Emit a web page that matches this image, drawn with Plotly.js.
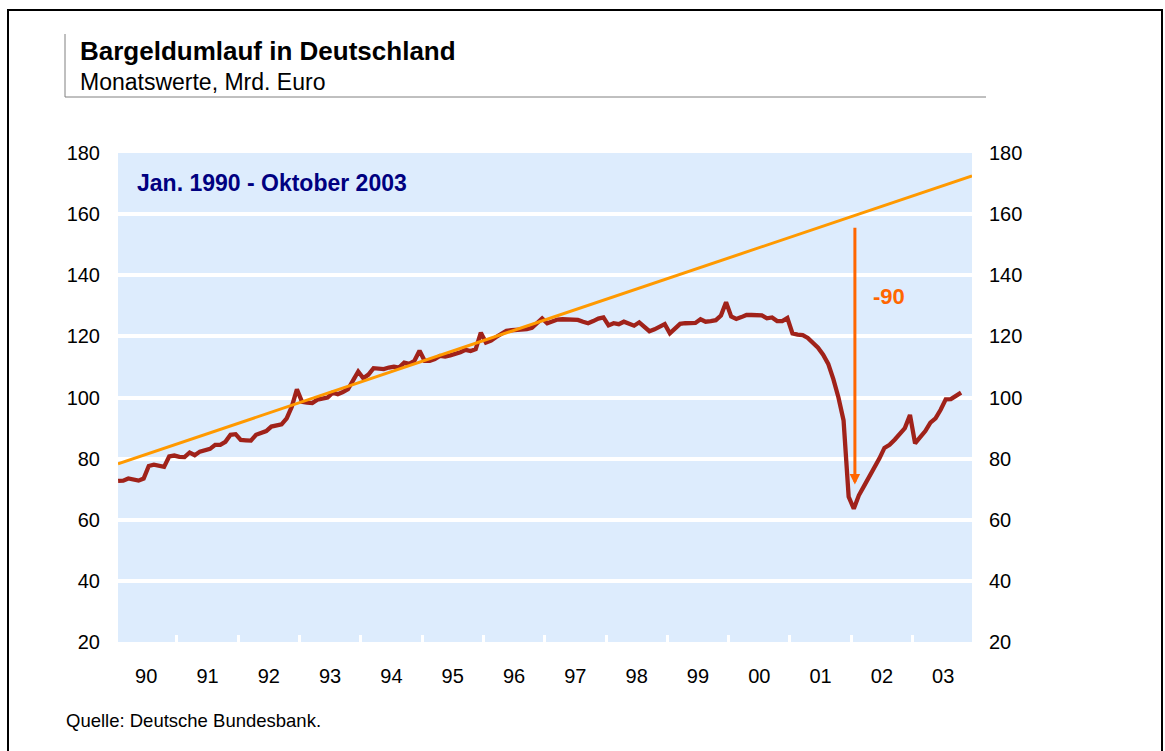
<!DOCTYPE html>
<html>
<head>
<meta charset="utf-8">
<script src="https://cdn.plot.ly/plotly-3.0.1.min.js"></script>
<style>
  html, body { margin: 0; padding: 0; background: #ffffff; }
  #chart { width: 1165px; height: 751px; }
</style>
</head>
<body>
<div id="chart"></div>
<script>
// ---- Data (monthly, Jan 1990 – Oct 2003, Mrd. Euro) ----
const startYear = 1990;
const yearLabels = ['90','91','92','93','94','95','96','97','98','99','00','01','02','03'];

const cash1990 = [72.7, 72.8, 73.5, 73.2, 72.8, 73.5, 77.6, 78.0, 77.8, 77.3, 80.7, 81.0];
const cash1991 = [80.6, 80.5, 82.0, 81.1, 82.3, 82.8, 83.2, 84.5, 84.5, 85.5, 87.8, 88.0];
const cash1992 = [86.1, 86.0, 85.9, 87.8, 88.3, 89.0, 90.5, 90.8, 91.2, 93.2, 97.0, 102.7];
const cash1993 = [98.6, 98.3, 98.2, 99.3, 99.8, 100.0, 101.6, 101.1, 101.8, 102.7, 105.6, 108.5];
const cash1994 = [106.3, 107.5, 109.6, 109.5, 109.3, 109.8, 110.1, 109.8, 111.4, 111.0, 112.0, 115.3];
const cash1995 = [112.0, 112.0, 112.6, 113.6, 113.4, 113.8, 114.2, 114.8, 115.6, 115.2, 115.8, 121.2];
const cash1996 = [118.0, 118.6, 119.8, 120.8, 121.8, 122.0, 122.1, 122.3, 122.4, 122.8, 124.5, 125.9];
const cash1997 = [124.3, 125.0, 125.5, 125.6, 125.5, 125.4, 125.4, 124.8, 124.3, 125.0, 125.8, 126.2];
const cash1998 = [123.6, 124.3, 124.0, 124.8, 124.3, 123.5, 124.6, 123.0, 121.7, 122.3, 123.3, 124.0];
const cash1999 = [121.0, 122.5, 124.1, 124.3, 124.3, 124.4, 125.6, 124.8, 125.0, 125.3, 126.8, 131.2];
const cash2000 = [126.5, 125.7, 126.3, 127.0, 127.0, 127.0, 126.9, 125.9, 126.2, 125.0, 125.0, 126.0];
const cash2001 = [121.0, 120.6, 120.4, 119.5, 118.0, 116.3, 114.0, 111.0, 106.0, 100.0, 92.5, 67.5];
const cash2002 = [63.6, 68.0, 71.0, 74.0, 76.5, 80.0, 83.5, 84.5, 86.2, 88.3, 90.0, 94.3];
const cash2003 = [85.0, 87.0, 89.0, 91.8, 93.2, 96.0, 99.4, 99.5, 100.5, 101.6];

const cashValues = [].concat(cash1990, cash1991, cash1992, cash1993, cash1994, cash1995,
  cash1996, cash1997, cash1998, cash1999, cash2000, cash2001, cash2002, cash2003);

// trend line (start / end of chart)
const trendX = [1990.04, 2003.97];
const trendY = [78.3, 172.5];

// gap arrow (Jan 2002)
const gapX = 2002.06;
const gapFrom = 156.0;
const gapTo = 71.5;
const gapLabel = '-90';

const periodLabel = 'Jan. 1990 - Oktober 2003';
const titleText = 'Bargeldumlauf in Deutschland';
const subtitleText = 'Monatswerte, Mrd. Euro';
const sourceText = 'Quelle: Deutsche Bundesbank.';

// ---- derived ----
const monthX = cashValues.map((_, i) => startYear + (i + 0.5) / 12);
const yearCenters = yearLabels.map((_, k) => startYear + k + 0.5);

const FONT = 'Liberation Sans, Arial, Helvetica, sans-serif';

const traces = [
  {
    x: monthX, y: cashValues, type: 'scatter', mode: 'lines',
    line: { color: '#A0221A', width: 4.3 },
    xaxis: 'x', yaxis: 'y', hoverinfo: 'skip'
  },
  {
    x: trendX, y: trendY, type: 'scatter', mode: 'lines',
    line: { color: '#FF9900', width: 3 },
    xaxis: 'x', yaxis: 'y2', hoverinfo: 'skip'
  }
];

// pixel -> paper helpers (plot area 118..972 x 153..642)
const L = 118, R = 193, T = 153, B = 109, W = 1165, H = 751;
const pw = W - L - R, ph = H - T - B;
const px = v => (v - L) / pw;
const py = v => (H - B - v) / ph;

const layout = {
  width: W, height: H,
  margin: { l: L, r: R, t: T, b: B, pad: 0 },
  paper_bgcolor: '#ffffff',
  plot_bgcolor: '#DDECFD',
  showlegend: false,
  font: { family: FONT, size: 20, color: '#000000' },
  xaxis: {
    range: [1990.04, 2003.97],
    tickmode: 'array', tickvals: yearCenters, ticktext: yearLabels,
    ticks: '', showgrid: false, zeroline: false, showline: false,
    ticklabelstandoff: 20,
    tickfont: { family: FONT, size: 20, color: '#000000' },
    minor: { tickmode: 'linear', tick0: 1990, dtick: 1, ticks: 'inside', ticklen: 7, tickwidth: 3, tickcolor: '#ffffff', showgrid: false }
  },
  yaxis: {
    range: [20, 180], tickmode: 'linear', tick0: 20, dtick: 20,
    showgrid: true, gridcolor: '#ffffff', gridwidth: 4,
    zeroline: false, showline: false, ticks: '',
    ticklabelstandoff: 17,
    tickfont: { family: FONT, size: 20, color: '#000000' }
  },
  yaxis2: {
    range: [20, 180], tickmode: 'linear', tick0: 20, dtick: 20,
    overlaying: 'y', side: 'right', anchor: 'x',
    showgrid: false, zeroline: false, showline: false, ticks: '',
    ticklabelstandoff: 16,
    tickfont: { family: FONT, size: 20, color: '#000000' }
  },
  shapes: [
    // outer frame
    { type: 'rect', xref: 'paper', yref: 'paper', x0: px(8), x1: px(1162), y0: py(790), y1: py(10),
      line: { color: '#000000', width: 2 }, fillcolor: 'rgba(0,0,0,0)', layer: 'above' },
    // title block rules
    { type: 'line', xref: 'paper', yref: 'paper', x0: px(65), x1: px(65), y0: py(97), y1: py(34),
      line: { color: '#808080', width: 1 } },
    { type: 'line', xref: 'paper', yref: 'paper', x0: px(65), x1: px(986), y0: py(97), y1: py(97),
      line: { color: '#808080', width: 1 } }
  ],
  annotations: [
    { text: '<b>' + titleText + '</b>', xref: 'paper', yref: 'paper', x: px(78), y: py(51),
      xanchor: 'left', yanchor: 'middle', showarrow: false,
      font: { family: FONT, size: 26, color: '#000000' } },
    { text: subtitleText, xref: 'paper', yref: 'paper', x: px(78), y: py(82),
      xanchor: 'left', yanchor: 'middle', showarrow: false,
      font: { family: FONT, size: 23, color: '#000000' } },
    { text: '<b>' + periodLabel + '</b>', xref: 'paper', yref: 'paper', x: px(135), y: py(183),
      xanchor: 'left', yanchor: 'middle', showarrow: false,
      font: { family: FONT, size: 23, color: '#000080' } },
    { text: sourceText, xref: 'paper', yref: 'paper', x: px(64), y: py(720),
      xanchor: 'left', yanchor: 'middle', showarrow: false,
      font: { family: FONT, size: 18.5, color: '#000000' } },
    { text: '', x: gapX, y: gapTo, xref: 'x', yref: 'y',
      ax: gapX, ay: gapFrom, axref: 'x', ayref: 'y',
      showarrow: true, arrowhead: 2, arrowsize: 0.7, arrowwidth: 3, arrowcolor: '#FF6600',
      standoff: 0, startstandoff: 0 },
    { text: '<b>' + gapLabel + '</b>', x: gapX + 0.55, y: 133, xref: 'x', yref: 'y',
      xanchor: 'center', yanchor: 'middle', showarrow: false,
      font: { family: FONT, size: 22, color: '#FF6600' } }
  ]
};

Plotly.newPlot('chart', traces, layout, { staticPlot: true, displayModeBar: false });
</script>
</body>
</html>
